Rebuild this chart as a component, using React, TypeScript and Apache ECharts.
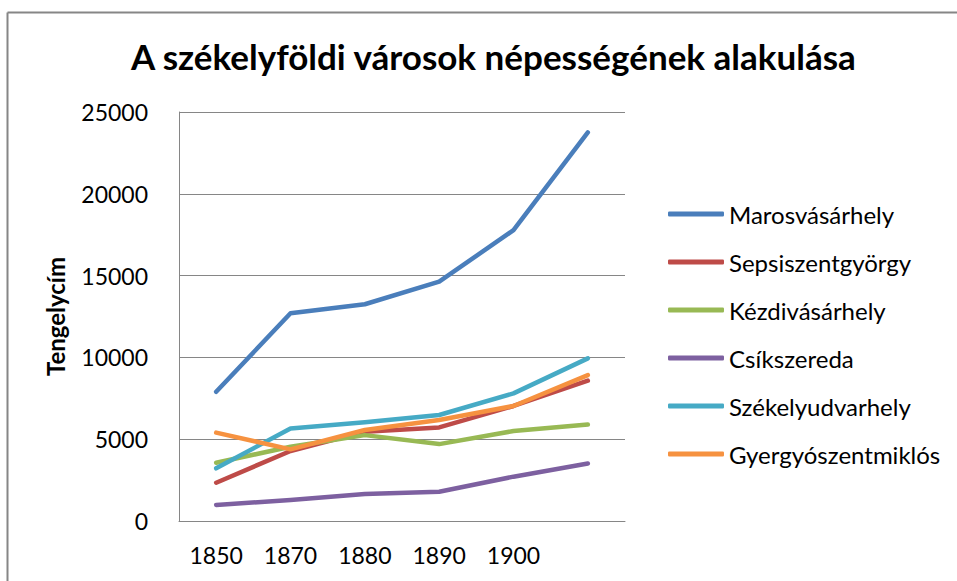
import React, { useEffect, useRef } from "react";
import * as echarts from "echarts";

const years = ["1850", "1870", "1880", "1890", "1900", ""];
const seriesNames = [
  "Marosvásárhely",
  "Sepsiszentgyörgy",
  "Kézdivásárhely",
  "Csíkszereda",
  "Székelyudvarhely",
  "Gyergyószentmiklós",
];
const marosvasarhely = [7900, 12700, 13250, 14630, 17780, 23750];
const sepsiszentgyorgy = [2340, 4280, 5460, 5720, 7030, 8580];
const kezdivasarhely = [3560, 4540, 5250, 4700, 5500, 5900];
const csikszereda = [980, 1280, 1650, 1790, 2710, 3520];
const szekelyudvarhely = [3220, 5660, 6030, 6480, 7800, 9940];
const gyergyoszentmiklos = [5400, 4380, 5560, 6170, 7030, 8920];
const seriesData = [
  marosvasarhely,
  sepsiszentgyorgy,
  kezdivasarhely,
  csikszereda,
  szekelyudvarhely,
  gyergyoszentmiklos,
];
const colors = ["#4A7EBB", "#BE4B48", "#98B954", "#7D60A0", "#46AAC5", "#F69240"];
const yTicks = { min: 0, max: 25000, interval: 5000 };
const titleText = "A székelyföldi városok népességének alakulása";
const yAxisTitle = "Tengelycím";

const FONT = "Lato, 'Open Sans', sans-serif";

export default function App() {
  const ref = useRef<HTMLDivElement>(null);
  useEffect(() => {
    document.body.style.margin = "0";
    const chart = echarts.init(ref.current!, null, { renderer: "svg" });
    chart.setOption({
      animation: false,
      backgroundColor: "#ffffff",
      color: colors,
      title: {
        text: titleText,
        left: 126,
        top: 33,
        textStyle: { fontFamily: FONT, fontWeight: "bold", fontSize: 35, color: "#000" },
      },
      grid: { left: 179, top: 112, right: 332, bottom: 60 },
      legend: {
        orient: "vertical",
        left: 663,
        top: 197,
        itemWidth: 56,
        itemHeight: 5,
        itemGap: 24,
        icon: "roundRect",
        textStyle: { fontFamily: FONT, fontSize: 24, color: "#000" },
        data: seriesNames,
      },
      xAxis: {
        type: "category",
        data: years,
        boundaryGap: true,
        axisLine: { show: true, lineStyle: { color: "#868686", width: 1 } },
        axisTick: { show: false },
        axisLabel: { fontFamily: FONT, fontSize: 23, color: "#000", margin: 22, interval: 0 },
      },
      yAxis: {
        type: "value",
        min: yTicks.min,
        max: yTicks.max,
        interval: yTicks.interval,
        name: yAxisTitle,
        nameLocation: "middle",
        nameGap: 112,
        nameRotate: 90,
        nameTextStyle: { fontFamily: FONT, fontWeight: "bold", fontSize: 24, color: "#000" },
        axisLine: { show: true, lineStyle: { color: "#868686", width: 1 } },
        axisTick: { show: false },
        splitLine: { show: true, lineStyle: { color: "#868686", width: 1 } },
        axisLabel: {
          fontFamily: FONT,
          fontSize: 23,
          color: "#000",
          margin: 31,
          formatter: (v: number) => String(v),
        },
      },
      graphic: [
        {
          type: "line",
          shape: { x1: 7.5, y1: 12.5, x2: 957, y2: 12.5 },
          style: { stroke: "#868686", lineWidth: 2 },
        },
        {
          type: "line",
          shape: { x1: 7.5, y1: 12.5, x2: 7.5, y2: 581 },
          style: { stroke: "#868686", lineWidth: 2 },
        },
      ],
      series: seriesNames.map((name, i) => ({
        name,
        type: "line",
        data: seriesData[i],
        symbol: "none",
        lineStyle: { width: 4.5, cap: "round", join: "round", color: colors[i] },
        itemStyle: { color: colors[i] },
      })),
    });
    return () => chart.dispose();
  }, []);
  return <div ref={ref} style={{ width: 957, height: 581 }} />;
}
